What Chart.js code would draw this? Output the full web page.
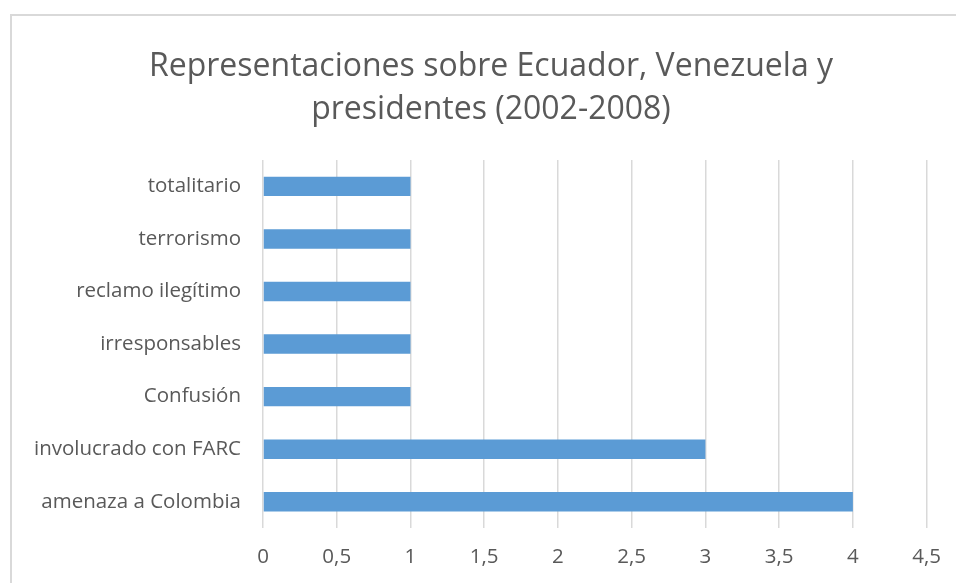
<!DOCTYPE html>
<html lang="es">
<head>
    <meta charset="UTF-8">
    <title>Representaciones sobre Ecuador, Venezuela y presidentes (2002-2008)</title>
    <style>
        body { margin: 0; background: #fff; overflow: hidden; }
        #frame {
            position: absolute; left: 10px; top: 14px;
            width: 2000px; height: 2000px;
            border-left: 2px solid #d9d9d9; border-top: 2px solid #d9d9d9;
        }
        #wrap { position: absolute; left: 0; top: 0; width: 958px; height: 583px; }
    </style>
</head>
<body>
    <div id="frame"></div>
    <div id="wrap">
        <canvas id="myChart"></canvas>
    </div>

    <script src="https://cdn.jsdelivr.net/npm/chart.js"></script>
    <script>
        // categorias de arriba hacia abajo
        const categorias = [
            'totalitario',
            'terrorismo',
            'reclamo ilegítimo',
            'irresponsables',
            'Confusión',
            'involucrado con FARC',
            'amenaza a Colombia'
        ];
        const valores = [1, 1, 1, 1, 1, 3, 4];
        const ejeMin = 0;
        const ejeMax = 4.5;
        const ejePaso = 0.5;

        const gris = '#595959';
        const fuente = "'Open Sans', 'Noto Sans', sans-serif";

        const ctx = document.getElementById('myChart').getContext('2d');
        const myChart = new Chart(ctx, {
            type: 'bar',
            data: {
                labels: categorias,
                datasets: [{
                    data: valores,
                    backgroundColor: '#5b9bd5',
                    borderWidth: 0,
                    categoryPercentage: 1,
                    barPercentage: 0.37
                }]
            },
            options: {
                indexAxis: 'y',
                responsive: true,
                maintainAspectRatio: false,
                animation: false,
                layout: {
                    padding: { left: 24, right: 0, top: 0, bottom: 0 }
                },
                plugins: {
                    legend: { display: false },
                    tooltip: { enabled: false },
                    title: {
                        display: true,
                        text: ['Representaciones sobre Ecuador, Venezuela y', 'presidentes (2002-2008)'],
                        color: gris,
                        font: { family: fuente, size: 32, weight: 'normal', lineHeight: 1.33 },
                        padding: { top: 46, bottom: 29 }
                    }
                },
                scales: {
                    x: {
                        min: ejeMin,
                        max: ejeMax,
                        ticks: {
                            stepSize: ejePaso,
                            color: gris,
                            padding: 17,
                            font: { family: fuente, size: 20.5 },
                            callback: function(value) {
                                return value.toString().replace('.', ',');
                            }
                        },
                        grid: { color: '#d9d9d9', lineWidth: 1.5, drawTicks: false },
                        border: { display: false },
                        afterFit: function(scale) { scale.height = 55; }
                    },
                    y: {
                        ticks: {
                            color: gris,
                            padding: 22,
                            font: { family: fuente, size: 20.5 }
                        },
                        grid: { display: false, drawTicks: false },
                        border: { display: false },
                        afterFit: function(scale) { scale.width = 239; }
                    }
                }
            }
        });
    </script>
</body>
</html>
